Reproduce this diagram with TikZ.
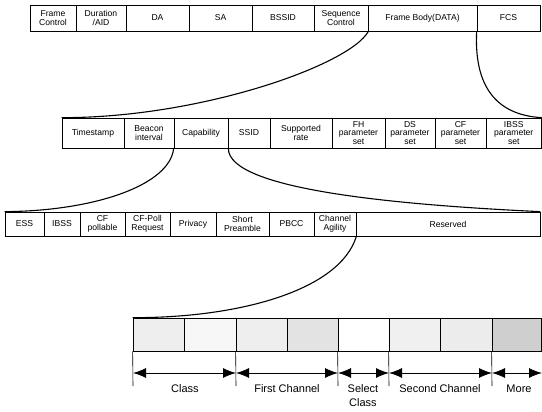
\documentclass[tikz,border=0pt]{standalone}
\usepackage{fontspec}
\setmainfont{Liberation Sans}
\usetikzlibrary{arrows.meta}
\begin{document}
\begin{tikzpicture}[x=1pt,y=-1pt,
  cell/.style={draw, line width=0.7pt, inner sep=0pt, align=center,
    font=\fontsize{8.6}{8.8}\selectfont},
  r1/.style={cell, minimum height=26pt},
  r2/.style={cell, minimum height=30pt},
  r3/.style={cell, minimum height=24pt},
  r4/.style={draw, line width=0.7pt, inner sep=0pt, minimum height=33pt},
  link/.style={line width=1.1pt},
  tick/.style={line width=0.6pt},
  dim/.style={line width=0.9pt, {Latex[length=13pt,width=10pt]}-{Latex[length=13pt,width=10pt]}},
  lab/.style={font=\fontsize{11}{12}\selectfont, align=center, inner sep=0pt}]
\useasboundingbox (0,0) rectangle (542,412);
% Row 1
\node[r1, minimum width=46pt] (fc) at (53,18) {Frame\\Control};
\node[r1, minimum width=50pt] (dur) at (101,18) {Duration\\/AID};
\node[r1, minimum width=63pt] (da) at (157.5,18) {DA};
\node[r1, minimum width=63pt] (sa) at (220.5,18) {SA};
\node[r1, minimum width=62pt] (bssid) at (283,18) {BSSID};
\node[r1, minimum width=54pt] (seq) at (341,18) {Sequence\\Control};
\node[r1, minimum width=109pt] (body) at (422.5,18) {Frame Body(DATA)};
\node[r1, minimum width=63pt] (fcs) at (508.5,18) {FCS};
% Row 2
\node[r2, minimum width=62pt] (ts) at (93,133) {Timestamp};
\node[r2, minimum width=50pt] (bi) at (149,133) {Beacon\\interval};
\node[r2, minimum width=54pt] (cap) at (201,133) {Capability};
\node[r2, minimum width=42pt] (ssid) at (249,133) {SSID};
\node[r2, minimum width=62pt] (rate) at (301,133) {Supported\\rate};
\node[r2, minimum width=53pt] (fh) at (358.5,133) {FH\\parameter\\set};
\node[r2, minimum width=50pt] (ds) at (410,133) {DS\\parameter\\set};
\node[r2, minimum width=51pt] (cf) at (460.5,133) {CF\\parameter\\set};
\node[r2, minimum width=55.5pt] (ibssp) at (513.75,133) {IBSS\\parameter\\set};
% Row 3
\node[r3, minimum width=39pt] (ess) at (24.5,224) {ESS};
\node[r3, minimum width=36pt] (ibss) at (62,224) {IBSS};
\node[r3, minimum width=45pt] (cfp) at (102.5,224) {CF\\pollable};
\node[r3, minimum width=45pt] (cfpr) at (147.5,224) {CF-Poll\\Request};
\node[r3, minimum width=46pt] (priv) at (193,224) {Privacy};
\node[r3, minimum width=53pt] (sp) at (242.5,224) {Short\\Preamble};
\node[r3, minimum width=45pt] (pbcc) at (291.5,224) {PBCC};
\node[r3, minimum width=42pt] (ca) at (335,224) {Channel\\Agility};
\node[r3, minimum width=184pt] (res) at (448,224) {Reserved};
% Row 4
\node[r4, minimum width=51pt, fill=gray!13] (b1) at (158.5,334.5) {};
\node[r4, minimum width=52pt, fill=gray!6] (b2) at (210,334.5) {};
\node[r4, minimum width=51pt, fill=gray!13] (b3) at (261.5,334.5) {};
\node[r4, minimum width=51pt, fill=gray!22] (b4) at (312.5,334.5) {};
\node[r4, minimum width=51pt, fill=white] (b5) at (363.5,334.5) {};
\node[r4, minimum width=51pt, fill=gray!12] (b6) at (414.5,334.5) {};
\node[r4, minimum width=52pt, fill=gray!15] (b7) at (466,334.5) {};
\node[r4, minimum width=49.5pt, fill=gray!38] (b8) at (516.75,334.5) {};
% Curves
\draw[link] (seq.south east) .. controls (350,65) and (200,118) .. (ts.north west);
\draw[link] (fcs.south west) .. controls (474,85) and (495,115) .. (ibssp.north east);
\draw[link] (cap.south west) .. controls (170,185) and (95,211) .. (ess.north west);
\draw[link] (cap.south east) .. controls (228,190) and (400,205) .. (res.north east);
\draw[link] (ca.south east) .. controls (340,290) and (240,318) .. (b1.north west);
% Dimension ticks
\coordinate (k1) at (133,386);
\coordinate (k2) at (236,386);
\coordinate (k3) at (338,386);
\coordinate (k4) at (389,386);
\coordinate (k5) at (492,386);
\draw[tick] (b1.south west) -- (k1);
\draw[tick] (b3.south west) -- (k2);
\draw[tick] (b5.south west) -- (k3);
\draw[tick] (b6.south west) -- (k4);
\draw[tick] (b8.south west) -- (k5);
\coordinate (a1) at (133,373);
\coordinate (a2) at (236,373);
\coordinate (a3) at (338,373);
\coordinate (a4) at (389,373);
\coordinate (a5) at (492,373);
\coordinate (a6) at (542,373);
\draw[dim] (a1) -- (a2);
\draw[dim] (a2) -- (a3);
\draw[dim] (a3) -- (a4);
\draw[dim] (a4) -- (a5);
\draw[dim] (a5) -- (a6);
% Labels
\node[lab] (l1) at (185,389) {Class};
\node[lab] (l2) at (287,389) {First Channel};
\node[lab, font=\fontsize{11}{14}\selectfont] (l3) at (363,396) {Select\\Class};
\node[lab] (l4) at (440,389) {Second Channel};
\node[lab] (l5) at (519,389) {More};
\end{tikzpicture}
\end{document}
